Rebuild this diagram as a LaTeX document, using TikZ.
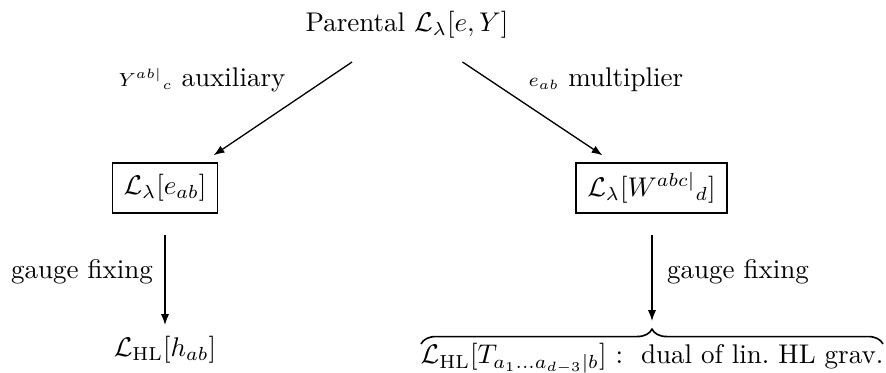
\documentclass[tikz,border=0pt]{standalone}
\usetikzlibrary{arrows.meta,decorations.pathreplacing}
\begin{document}
\begin{tikzpicture}[x=0.37pt,y=0.37pt,
  every node/.style={font=\normalsize, inner sep=0pt},
  boxnode/.style={draw, line width=0.67pt, minimum height=18.5pt, inner xsep=2.2pt},
  arr/.style={line width=0.48pt, -{Latex[length=4pt,width=3pt]}}]
\clip (0,0) rectangle (886,-373);
\useasboundingbox (0,0) rectangle (886,-373);
\node (top) at (407,-25) {Parental $\mathcal{L}_\lambda[e,Y]$};
\node[boxnode, minimum width=38.9pt] (lbox) at (165,-188) {$\mathcal{L}_\lambda[e_{ab}]$};
\node[boxnode, minimum width=55.9pt] (rbox) at (651.5,-188) {$\mathcal{L}_\lambda[W^{abc|}{}_d]$};
\node (lbot) at (165,-350) {$\mathcal{L}_{\mathrm{HL}}[h_{ab}]$};
\node[anchor=base] (rbot) at (652,-364) {$\mathcal{L}_{\mathrm{HL}}[T_{a_1\ldots a_{d-3}|b}]$\ :\ \ dual of lin.\ HL grav.};
\node (laux) at (202,-80) {$\scriptstyle Y^{ab|}{}_c$ auxiliary};
\node (rmul) at (606,-80) {$\scriptstyle e_{ab}$ multiplier};
\node (lgf) at (82,-272) {gauge fixing};
\node (rgf) at (738,-272) {gauge fixing};
\coordinate (l1) at (165,-235);
\coordinate (l2) at (165,-325);
\coordinate (r1) at (652,-235);
\coordinate (r2) at (652,-321);
\coordinate (bl) at (421,-344);
\coordinate (br) at (883,-344);
\draw[arr, shorten <=24.5pt, shorten >=21.7pt] (top.center) -- (lbox.center);
\draw[arr, shorten <=24.7pt, shorten >=21.8pt] (top.center) -- (rbox.center);
\draw[arr] (l1) -- (l2);
\draw[arr] (r1) -- (r2);
\draw[line width=0.6pt, decorate, decoration={brace, amplitude=5.5pt}] (bl) -- (br);
\end{tikzpicture}
\end{document}
